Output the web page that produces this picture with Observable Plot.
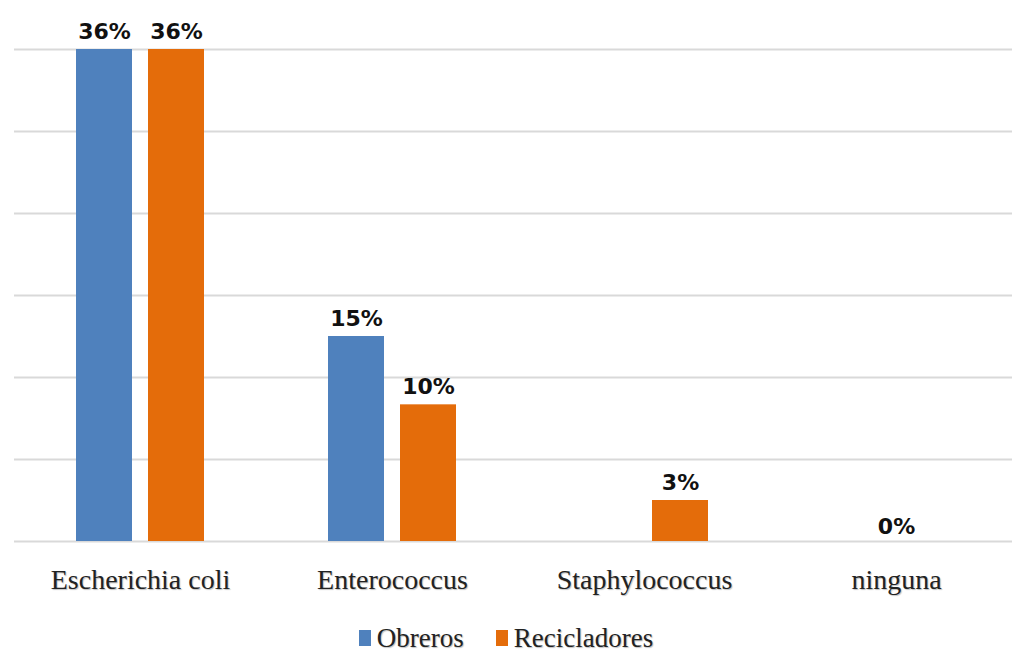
<!DOCTYPE html>
<html>
<head>
<meta charset="utf-8">
<script src="https://cdn.jsdelivr.net/npm/d3@7"></script>
<script src="https://cdn.jsdelivr.net/npm/@observablehq/plot@0.6"></script>
<style>
  body { margin: 0; background: #fff; }
  #chart { width: 1012px; }
  .legend {
    display: flex; justify-content: center; align-items: center;
    font-family: "Liberation Serif", serif; font-size: 27px; line-height: 30px; color: #222;
    height: 34px; text-shadow: 1px 1px 1px rgba(0,0,0,0.25);
  }
  .legend .item { display: flex; align-items: center; margin: 0 16px; }
  .legend .sw { display: inline-block; width: 12px; height: 16px; margin-right: 6px; }
</style>
</head>
<body>
<div id="chart"></div>
<script>
// Porcentaje de bacterias aisladas por grupo
const categories = ["Escherichia coli", "Enterococcus", "Staphylococcus", "ninguna"];
const series = ["Obreros", "Recicladores"];
const obreros = [36, 15, null, 0];
const recicladores = [36, 10, 3, 0];
const colors = ["#4f81bd", "#e46c0a"];
const yTicks = [0, 6, 12, 18, 24, 30, 36];

const rows = [];
categories.forEach((c, i) => {
  rows.push({categoria: c, grupo: series[0], valor: obreros[i]});
  rows.push({categoria: c, grupo: series[1], valor: recicladores[i]});
});
const positive = rows.filter(d => d.valor != null && d.valor > 0);
// a category where every group is zero gets one centered label
const zeroCats = categories
  .filter((c, i) => obreros[i] === 0 && recicladores[i] === 0)
  .map(c => ({categoria: c, valor: 0}));

const labelStyle = {
  fontSize: 22, fontWeight: "bold", fontFamily: "DejaVu Sans", fill: "#111",
  text: d => d.valor + "%"
};

const chart = Plot.plot({
  width: 1012,
  height: 621,
  marginTop: 49,
  marginBottom: 80,
  marginLeft: 13,
  marginRight: -11,
  style: {overflow: "visible"},
  fx: {domain: categories, padding: 0, label: null},
  x: {domain: series, paddingInner: 0.22, paddingOuter: 0.84, axis: null},
  y: {domain: [0, 36], axis: null},
  color: {domain: series, range: colors},
  marks: [
    Plot.ruleY(yTicks, {stroke: "#d9d9d9", strokeWidth: 2}),
    Plot.barY(positive, {fx: "categoria", x: "grupo", y: "valor", fill: "grupo"}),
    Plot.text(positive, {fx: "categoria", x: "grupo", y: "valor", dy: -18, ...labelStyle}),
    Plot.text(zeroCats, {fx: "categoria", y: "valor", dy: -15, ...labelStyle}),
    Plot.axisFx({
      anchor: "bottom", tickSize: 0, tickPadding: 28, label: null,
      fontSize: 28, fontFamily: "Liberation Serif", fill: "#222"
    })
  ]
});
chart.querySelectorAll("g[aria-label='fx-axis tick label'] text").forEach(t => {
  t.style.textShadow = "1px 1px 1px rgba(0,0,0,0.25)";
});
document.getElementById("chart").appendChild(chart);

// legend
const legend = document.createElement("div");
legend.className = "legend";
series.forEach((s, i) => {
  const item = document.createElement("span");
  item.className = "item";
  const sw = document.createElement("span");
  sw.className = "sw";
  sw.style.background = colors[i];
  item.appendChild(sw);
  item.appendChild(document.createTextNode(s));
  legend.appendChild(item);
});
document.getElementById("chart").appendChild(legend);
</script>
</body>
</html>
